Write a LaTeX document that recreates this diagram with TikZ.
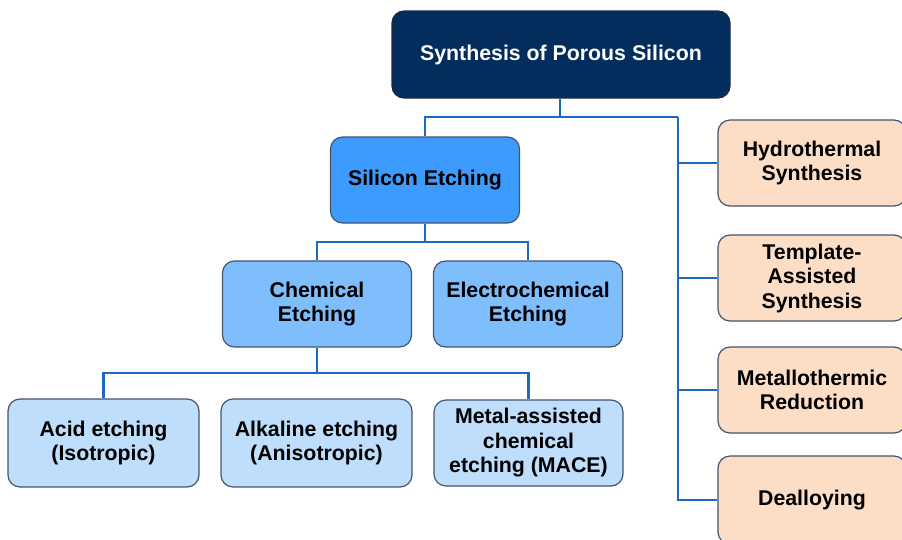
\documentclass[tikz,border=0pt]{standalone}
\usepackage{fontspec}
\setmainfont{Liberation Sans}
\begin{document}
\begin{tikzpicture}[x=1pt,y=-1pt,
  box/.style={rectangle, rounded corners=12pt, draw=boxline, line width=1.2pt,
    align=center, font=\fontsize{21.3}{24.5}\selectfont\bfseries, inner sep=2pt,
    minimum width=189pt, minimum height=86pt, text=black},
  topbox/.style={box, fill=navy, draw=navyline, text=white, minimum width=338pt, minimum height=87pt},
  lvone/.style={box, fill=blueA},
  lvtwo/.style={box, fill=blueB},
  lvthree/.style={box, fill=blueC},
  side/.style={box, fill=peach, minimum width=188pt},
  conn/.style={draw=connblue, line width=2.2pt}
]
\definecolor{navy}{HTML}{022D5C}
\definecolor{navyline}{HTML}{1C2B40}
\definecolor{boxline}{HTML}{42556E}
\definecolor{blueA}{HTML}{3D9BFD}
\definecolor{blueB}{HTML}{7FBEFD}
\definecolor{blueC}{HTML}{BEDEFC}
\definecolor{peach}{HTML}{FCDEC6}
\definecolor{connblue}{HTML}{1C68C2}
\useasboundingbox (0,0) rectangle (902,539);
\clip (0,0) rectangle (902,539);

\coordinate (j1) at (560,117);
\coordinate (trunk) at (678,117);
\coordinate (j2) at (425,242);
\coordinate (j3) at (317,373);

\node[topbox] (top) at (561,54.5) {Synthesis of Porous Silicon};
\node[lvone] (siet) at (425,180) {Silicon Etching};
\node[lvtwo] (chem) at (317,304) {Chemical\\Etching};
\node[lvtwo] (elec) at (528,304) {Electrochemical\\Etching};
\node[lvthree, minimum width=191pt, minimum height=88pt] (acid) at (103.5,443) {Acid etching\\(Isotropic)};
\node[lvthree, minimum width=191pt, minimum height=88pt] (alk) at (316.5,443) {Alkaline etching\\(Anisotropic)};
\node[lvthree, minimum width=189pt, minimum height=86pt] (mace) at (528.5,443) {Metal-assisted\\chemical\\etching (MACE)};
\node[side] (hydro) at (812,163) {Hydrothermal\\Synthesis};
\node[side] (templ) at (812,278) {Template-\\Assisted\\Synthesis};
\node[side] (metal) at (812,390) {Metallothermic\\Reduction};
\node[side, minimum height=88pt] (deal) at (812,500) {Dealloying};

\begin{scope}[on background layer/.style={}]
\draw[conn] (top.south -| j1) -- (j1);
\draw[conn] (siet.north) |- (trunk);
\draw[conn] (trunk) |- (deal.west);
\draw[conn] (hydro.west -| trunk) -- (hydro.west);
\draw[conn] (templ.west -| trunk) -- (templ.west);
\draw[conn] (metal.west -| trunk) -- (metal.west);

\draw[conn] (siet.south) -- (j2);
\draw[conn] (chem.north) |- (j2) -| (elec.north);

\draw[conn] (chem.south) -- (j3);
\draw[conn] (acid.north) |- (j3) -| (mace.north);
\end{scope}
\end{tikzpicture}
\end{document}
